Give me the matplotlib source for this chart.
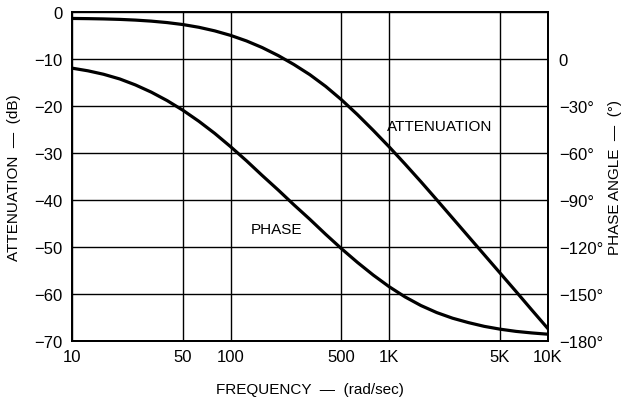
import matplotlib.pyplot as plt

plt.rcParams['font.family'] = ['Liberation Sans', 'DejaVu Sans']

# both curves at tenth-of-a-decade steps (rad/sec)
freq = [10, 12.6, 15.8, 20, 25.1, 31.6, 39.8, 50.1, 63.1, 79.4,
        100, 126, 158, 200, 251, 316, 398, 501, 631, 794,
        1000, 1259, 1585, 1995, 2512, 3162, 3981, 5012, 6310, 7943, 10000]

# attenuation, dB
att_db = [-1.4, -1.44, -1.5, -1.6, -1.75, -1.97, -2.28, -2.7, -3.28, -4.04,
          -5.0, -6.18, -7.58, -9.3, -11.2, -13.35, -15.85, -18.7, -21.85, -25.2,
          -28.7, -32.35, -36.1, -39.95, -43.85, -47.75, -51.65, -55.55, -59.45,
          -63.4, -67.3]

# phase angle, degrees
ph_deg = [-5.9, -7.6, -9.8, -12.8, -16.6, -21.2, -26.6, -32.8, -39.8, -47.5,
          -56.0, -65.0, -74.3, -83.7, -93.1, -102.3, -111.9, -121.1, -129.8,
          -137.9, -145.3, -151.8, -157.3, -161.8, -165.4, -168.2, -170.6, -172.4,
          -173.8, -174.8, -175.6]

x_ticks = [10, 50, 100, 500, 1000, 5000, 10000]
x_labels = ['10', '50', '100', '500', '1K', '5K', '10K']
db_ticks = [0, -10, -20, -30, -40, -50, -60, -70]
deg_ticks = [0, -30, -60, -90, -120, -150, -180]

fig = plt.figure(figsize=(6.21, 4.02), dpi=100)
ax = fig.add_axes([0.116, 0.149, 0.766, 0.819])

ax.plot(freq, att_db, color='black', lw=2.3)
ax.set_xscale('log')
ax.set_xlim(10, 10000)
ax.set_ylim(-70, 0)
ax.set_xticks(x_ticks)
ax.set_xticklabels(x_labels)
ax.minorticks_off()
ax.set_yticks(db_ticks)
ax.set_yticklabels(['0' if v == 0 else '\u2212%d' % -v for v in db_ticks])
ax.grid(True, color='black', lw=1.0)
ax.tick_params(length=0, labelsize=12, pad=7)
ax.tick_params(axis='x', pad=6)
for s in ax.spines.values():
    s.set_linewidth(1.3)
ax.set_xlabel('FREQUENCY  —  (rad/sec)', fontsize=11)
ax.xaxis.set_label_coords(0.5, -0.125)
ax.set_ylabel('ATTENUATION  —  (dB)', fontsize=11)
ax.yaxis.set_label_coords(-0.107, 0.5)

ax2 = ax.twinx()
ax2.plot(freq, ph_deg, color='black', lw=2.3)
ax2.set_ylim(-180, 30)
ax2.set_yticks(deg_ticks)
ax2.set_yticklabels(['0' if v == 0 else '\u2212%d°' % -v for v in deg_ticks])
ax2.tick_params(length=0, labelsize=12, pad=8)
ax2.set_ylabel('PHASE ANGLE  —  (°)', fontsize=11)
ax2.yaxis.set_label_coords(1.126, 0.5)
for s in ax2.spines.values():
    s.set_linewidth(1.3)

ax.text(2090, -24.2, 'ATTENUATION', fontsize=11, ha='center', va='center')
ax.text(195, -46.2, 'PHASE', fontsize=11, ha='center', va='center')

fig.savefig('out.png', dpi=100)
